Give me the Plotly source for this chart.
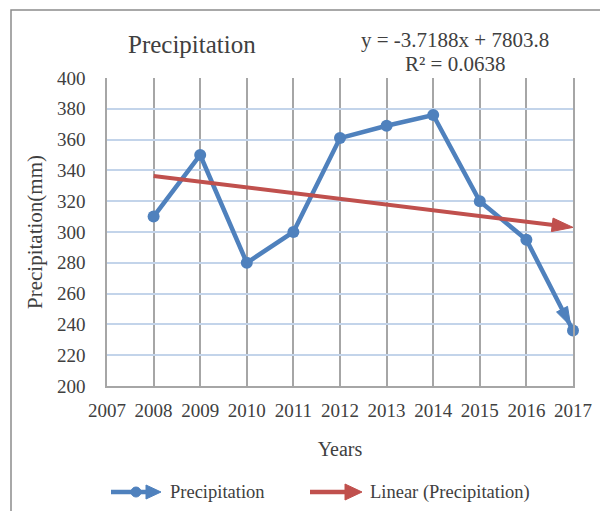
import plotly.graph_objects as go

years = [2008, 2009, 2010, 2011, 2012, 2013, 2014, 2015, 2016, 2017]
precip = [310, 350, 280, 300, 361, 369, 376, 320, 295, 236]
trend_years = [2008, 2017]
trend_values = [336.4, 303.0]
x_ticks = list(range(2007, 2018))
y_ticks = list(range(200, 401, 20))

BLUE = "#4f81bd"
RED = "#c0504d"
TXT = "#404040"
FONT = "Liberation Serif"

OFF = 8  # page body margin offset
W, H = 608 - OFF, 511 - OFF
L, R, T, B = 107 - OFF, 35, 78 - OFF, 125
pw, ph = W - L - R, H - T - B


def px(x):
    return (x - OFF - L) / pw


def py(y):
    return 1 + (T - (y - OFF)) / ph


fig = go.Figure()

fig.add_trace(go.Scatter(
    x=years, y=precip, mode="lines+markers", name="Precipitation",
    line=dict(color=BLUE, width=4.5),
    marker=dict(symbol="circle", size=12, color=BLUE),
    cliponaxis=False, showlegend=False,
))
# arrow head at the end of the precipitation line
fig.add_trace(go.Scatter(
    x=years[-2:], y=precip[-2:], mode="markers", showlegend=False,
    marker=dict(symbol="arrow", size=[0, 20], color=BLUE, angleref="previous",
                standoff=[0, 5], opacity=1, line=dict(width=1, color=BLUE)),
    cliponaxis=False, hoverinfo="skip",
))
fig.add_trace(go.Scatter(
    x=trend_years, y=trend_values, mode="lines+markers", name="Linear (Precipitation)",
    line=dict(color=RED, width=4),
    marker=dict(symbol="arrow", size=[0, 22], color=RED, angleref="previous",
                opacity=1, line=dict(width=1, color=RED)),
    cliponaxis=False, showlegend=False,
))

fig.update_layout(
    width=W, height=H,
    margin=dict(l=L, r=R, t=T, b=B),
    paper_bgcolor="white", plot_bgcolor="white",
    font=dict(family=FONT, color=TXT, size=18),
    showlegend=False,
    xaxis=dict(
        range=[2007, 2017], tickvals=x_ticks, ticktext=[str(v) for v in x_ticks],
        showgrid=True, gridcolor="#a6a6a6", gridwidth=1.5,
        showline=True, linecolor="#a6a6a6", linewidth=1.5,
        zeroline=False, ticks="", ticklabelstandoff=6, automargin=False,
        tickfont=dict(size=19, color=TXT),
        title=dict(text="Years", font=dict(size=20, color=TXT), standoff=22),
    ),
    yaxis=dict(
        range=[200, 400], tickvals=y_ticks,
        showgrid=True, gridcolor="#c3d4ea", gridwidth=1.5,
        showline=True, linecolor="#a6a6a6", linewidth=1.5, mirror=True,
        zeroline=False, ticks="", ticklabelstandoff=16, automargin=False,
        tickfont=dict(size=19, color=TXT),
        title=dict(text="Precipitation(mm)", font=dict(size=21, color=TXT), standoff=9),
    ),
)

ann = [
    ("Precipitation", 192, 45, 25, "center"),
    ("y = -3.7188x + 7803.8", 455, 40, 21, "center"),
    ("R² = 0.0638", 455, 64, 21, "center"),
    ("Precipitation", 168, 492, 18.5, "left"),
    ("Linear (Precipitation)", 368, 492, 18.5, "left"),
]
for text, x, y, size, xa in ann:
    fig.add_annotation(text=text, x=px(x), y=py(y), xref="paper", yref="paper",
                       xanchor=xa, yanchor="middle", showarrow=False,
                       font=dict(size=size, color=TXT, family=FONT))

# legend symbols
fig.add_shape(type="line", xref="paper", yref="paper",
              x0=px(111), x1=px(150), y0=py(492), y1=py(492),
              line=dict(color=BLUE, width=4.5))
fig.add_shape(type="circle", xref="paper", yref="paper",
              x0=px(131), x1=px(141), y0=py(497), y1=py(487),
              line=dict(color=BLUE, width=1), fillcolor=BLUE)
fig.add_shape(type="path", xref="paper", yref="paper",
              path=f"M {px(146)},{py(485)} L {px(161)},{py(492)} L {px(146)},{py(499)} Z",
              line=dict(color=BLUE, width=1), fillcolor=BLUE)
fig.add_shape(type="line", xref="paper", yref="paper",
              x0=px(310), x1=px(347), y0=py(492), y1=py(492),
              line=dict(color=RED, width=4.5))
fig.add_shape(type="path", xref="paper", yref="paper",
              path=f"M {px(345)},{py(484)} L {px(362)},{py(492)} L {px(345)},{py(500)} Z",
              line=dict(color=RED, width=1), fillcolor=RED)

# outer chart border
fig.add_shape(type="rect", xref="paper", yref="paper",
              x0=px(11), x1=px(608 + 20), y0=py(511 + 20), y1=py(10),
              line=dict(color="#8c8c8c", width=1.5), layer="below")

fig.write_html("out.html")
